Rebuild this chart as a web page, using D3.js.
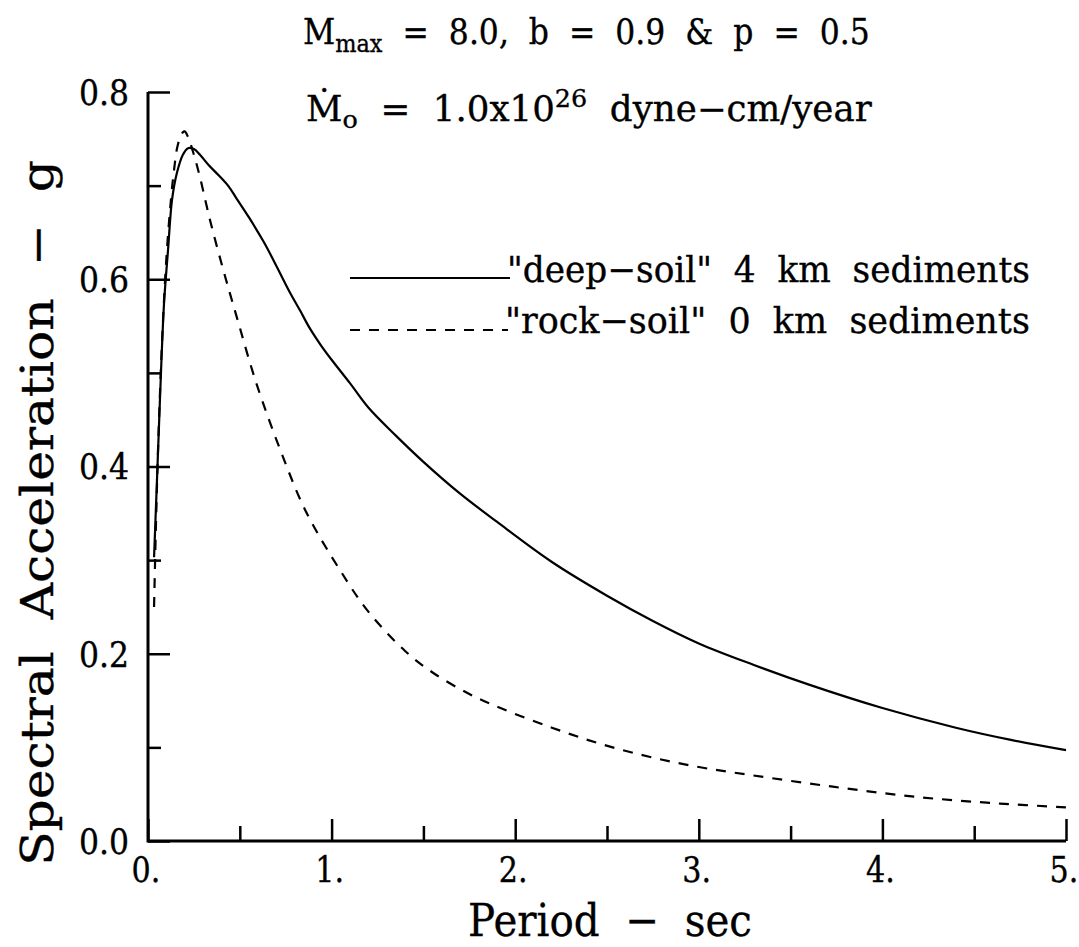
<!DOCTYPE html>
<html><head><meta charset="utf-8">
<script src="https://cdn.jsdelivr.net/npm/d3@7"></script>
<style>html,body{margin:0;padding:0;background:#fff;}svg{display:block;} text{font-family:'DejaVu Serif','Liberation Serif',serif;}</style>
</head><body>
<svg id="c" width="1079" height="947"></svg>
<script>
// ---- data ----
const deepX = [0.033,0.049,0.065,0.087,0.109,0.131,0.158,0.19,0.218,0.25,0.283,0.33,0.39,0.44,0.48,0.55,0.63,0.70,0.77,0.83,0.88,0.94,1.0,1.1,1.2,1.35,1.5,1.7,1.9,2.2,2.5,2.75,3.0,3.3,3.6,4.0,4.4,4.7,5.0];
const deepY = [0.303,0.386,0.471,0.573,0.631,0.685,0.714,0.733,0.740,0.739,0.733,0.722,0.710,0.699,0.687,0.666,0.640,0.614,0.587,0.566,0.548,0.530,0.514,0.489,0.463,0.433,0.405,0.371,0.341,0.298,0.262,0.235,0.211,0.188,0.167,0.142,0.121,0.108,0.097];
const rockX = [0.033,0.044,0.06,0.082,0.103,0.125,0.142,0.163,0.19,0.2,0.218,0.25,0.283,0.338,0.41,0.48,0.59,0.72,0.86,1.05,1.2,1.4,1.55,1.75,1.92,2.2,2.46,2.73,3.0,3.28,3.73,4.19,4.64,5.0];
const rockY = [0.25,0.343,0.45,0.557,0.631,0.685,0.717,0.744,0.757,0.758,0.752,0.733,0.709,0.663,0.61,0.562,0.489,0.418,0.352,0.288,0.245,0.203,0.18,0.157,0.142,0.121,0.104,0.09,0.079,0.0705,0.058,0.047,0.04,0.036];
const xMajor = [0,1,2,3,4,5];
const xMinor = [0.5,1.5,2.5,3.5,4.5];
const xTickLabels = ["0.","1.","2.","3.","4.","5."];
const yMajor = [0,0.2,0.4,0.6,0.8];
const yMinor = [0.1,0.3,0.5,0.7];
const yTickLabels = ["0.0","0.2","0.4","0.6","0.8"];
const legendLabels = ["\"deep\u2212soil\"  4  km  sediments", "\"rock\u2212soil\"  0  km  sediments"];

const FONT = "'DejaVu Serif', 'Liberation Serif', serif";
const svg = d3.select("#c");
const x = d3.scaleLinear().domain([0,5]).range([148,1066]);
const y = d3.scaleLinear().domain([0,0.8]).range([841,92]);

function fitW(sel, w, ax){
  const cw = sel.node().getBBox().width;
  const s = w / cw;
  const prev = sel.attr("transform") || "";
  sel.attr("transform", prev + ` translate(${ax},0) scale(${s},1) translate(${-ax},0)`);
}
function heavy(sel){ sel.attr("stroke","#000").attr("stroke-width",0.35); }

// axes
const gx = svg.append("g").attr("transform", `translate(0,${y(0)})`)
  .call(d3.axisBottom(x).tickValues(xMajor).tickSizeInner(-22).tickSizeOuter(0).tickPadding(0)
        .tickFormat((d,i)=>xTickLabels[i]));
gx.attr("font-family", FONT);
gx.select(".domain").attr("stroke-width",3).attr("d", `M${x(0)},0H${x(5)}`);
gx.selectAll(".tick line").attr("stroke-width",2.5);
gx.selectAll(".tick text").attr("font-size",36).style("font-family",FONT).attr("fill","#000")
  .attr("y",41).attr("dy",0).attr("dx",-3).attr("transform","scale(0.84,1)").call(heavy);
const gxm = svg.append("g").attr("transform", `translate(0,${y(0)})`)
  .call(d3.axisBottom(x).tickValues(xMinor).tickSizeInner(-15).tickSizeOuter(0).tickFormat(""));
gxm.select(".domain").remove();
gxm.selectAll(".tick line").attr("stroke-width",2.5);

const gy = svg.append("g").attr("transform", `translate(${x(0)},0)`)
  .call(d3.axisLeft(y).tickValues(yMajor).tickSizeInner(-22).tickSizeOuter(0).tickPadding(19)
        .tickFormat((d,i)=>yTickLabels[i]));
gy.attr("font-family", FONT);
gy.select(".domain").attr("stroke-width",3).attr("d", `M0,${y(0)+1.5}V${y(0.8)}`);
gy.selectAll(".tick line").attr("stroke-width",2.5);
gy.selectAll(".tick text").attr("font-size",35).style("font-family",FONT).attr("fill","#000")
  .attr("dy","0.35em").attr("transform","translate(-19,0) scale(0.9,1) translate(19,0)").call(heavy);
const gym = svg.append("g").attr("transform", `translate(${x(0)},0)`)
  .call(d3.axisLeft(y).tickValues(yMinor).tickSizeInner(-13).tickSizeOuter(0).tickFormat(""));
gym.select(".domain").remove();
gym.selectAll(".tick line").attr("stroke-width",2.5);

// curves
const line = d3.line().x(d=>x(d[0])).y(d=>y(d[1])).curve(d3.curveCatmullRom.alpha(0.5));
svg.append("path").datum(deepX.map((v,i)=>[v,deepY[i]]))
  .attr("d", line).attr("fill","none").attr("stroke","#000").attr("stroke-width",2.2);
svg.append("path").datum(rockX.map((v,i)=>[v,rockY[i]]))
  .attr("d", line).attr("fill","none").attr("stroke","#000").attr("stroke-width",2.2)
  .attr("stroke-dasharray","10,9");

// legend
svg.append("line").attr("x1",350).attr("x2",510).attr("y1",278).attr("y2",278)
  .attr("stroke","#000").attr("stroke-width",2);
svg.append("line").attr("x1",350).attr("x2",508).attr("y1",330).attr("y2",330)
  .attr("stroke","#000").attr("stroke-width",2).attr("stroke-dasharray","10,9");
const l1 = svg.append("text").attr("x",507).attr("y",282).attr("font-size",36)
  .style("white-space","pre").text(legendLabels[0]).call(heavy);
fitW(l1, 523, 507);
const l2 = svg.append("text").attr("x",505).attr("y",333).attr("font-size",36)
  .style("white-space","pre").text(legendLabels[1]).call(heavy);
fitW(l2, 525, 505);

// titles
const t1 = svg.append("text").attr("x",303).attr("y",44).attr("font-size",35).style("white-space","pre").call(heavy);
t1.append("tspan").text("M");
t1.append("tspan").attr("font-size",25).attr("dy",8).text("max");
t1.append("tspan").attr("dy",-8).text("  =  8.0,  b  =  0.9  &  p  =  0.5");
fitW(t1, 567, 303);

const t2 = svg.append("text").attr("x",306).attr("y",121).attr("font-size",35).style("white-space","pre").call(heavy);
t2.append("tspan").text("\u1E40");
t2.append("tspan").attr("font-size",25).attr("dy",7).text("o");
t2.append("tspan").attr("dy",-7).text("  =  1.0x10");
t2.append("tspan").attr("font-size",25).attr("dy",-14).text("26");
t2.append("tspan").attr("dy",14).text("  dyne\u2212cm/year");
fitW(t2, 566, 306);

// axis titles
const xt = svg.append("text").attr("x",610).attr("y",936).attr("font-size",45)
  .attr("text-anchor","middle").style("white-space","pre").text("Period  \u2212  sec").call(heavy);
fitW(xt, 284, 610);
const yt = svg.append("text").attr("font-size",45).attr("text-anchor","middle")
  .style("white-space","pre").text("Spectral  Acceleration  \u2212  g").call(heavy);
yt.attr("transform","translate(53,513) rotate(-90)");
fitW(yt, 706, 0);
</script>
</body></html>
